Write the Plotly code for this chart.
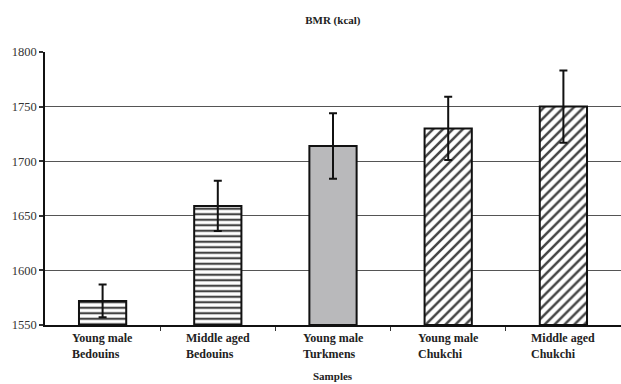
import plotly.graph_objects as go

# BMR by sample group
samples = ["Young male<br>Bedouins", "Middle aged<br>Bedouins", "Young male<br>Turkmens",
           "Young male<br>Chukchi", "Middle aged<br>Chukchi"]
bmr_kcal = [1572, 1659, 1714, 1730, 1750]
bmr_sd = [15, 23, 30, 29, 33]
y_ticks = [1550, 1600, 1650, 1700, 1750, 1800]

pattern_shapes = ["-", "-", "", "/", "/"]
fill_colors = ["white", "white", "#b9b9bb", "white", "white"]

serif = "Times New Roman, Liberation Serif, serif"

fig = go.Figure()
fig.add_trace(go.Bar(
    x=list(range(len(samples))),
    y=[v - y_ticks[0] for v in bmr_kcal],
    base=y_ticks[0],
    marker=dict(
        color=fill_colors,
        line=dict(color="#111", width=2),
        pattern=dict(shape=pattern_shapes, fgcolor="#1a1a1a", fgopacity=1,
                     size=[5.5, 5.5, 8, 7, 7], solidity=[0.4, 0.4, 0.3, 0.36, 0.36],
                     fillmode="overlay"),
    ),
    error_y=dict(type="data", array=bmr_sd, visible=True, color="#111",
                 thickness=2, width=4),
    width=0.41,
    showlegend=False,
))

# Category labels, left-aligned lines under each bar
for i, lab in enumerate(samples):
    fig.add_annotation(x=i, y=0, xref="x", yref="paper", text="<b>" + lab + "</b>",
                       showarrow=False, xanchor="center", yanchor="top", align="left",
                       yshift=-4, font=dict(family=serif, size=12, color="#222"))

fig.add_annotation(x=0.5, y=-0.212, xref="paper", yref="paper", text="<b>Samples</b>",
                   showarrow=False, xanchor="center", yanchor="bottom", borderpad=0,
                   font=dict(family=serif, size=11, color="#222"))

fig.update_layout(
    width=621, height=384,
    margin=dict(l=45, r=0, t=52, b=59),
    paper_bgcolor="white", plot_bgcolor="white",
    title=dict(text="<b>BMR (kcal)</b>", x=0.536, xanchor="center", y=0.947, yanchor="middle",
               font=dict(family=serif, size=11, color="#222")),
    bargap=0.59,
)
fig.update_xaxes(
    range=[-0.5, len(samples) - 0.5], tickvals=[i + 0.5 for i in range(len(samples) - 1)],
    showticklabels=False, ticks="outside", ticklen=4, tickcolor="#333", tickwidth=1,
    showline=True, linecolor="#111", linewidth=1.5, showgrid=False, zeroline=False,
)
fig.update_yaxes(
    range=[y_ticks[0], y_ticks[-1]], tickvals=y_ticks, ticks="outside", ticklen=4,
    tickcolor="#333", tickwidth=1.5, showline=True, linecolor="#111", linewidth=1.5,
    showgrid=True, gridcolor="#555", gridwidth=1, zeroline=False,
    tickfont=dict(family=serif, size=12.5, color="#333"),
)

fig.write_html("out.html")
